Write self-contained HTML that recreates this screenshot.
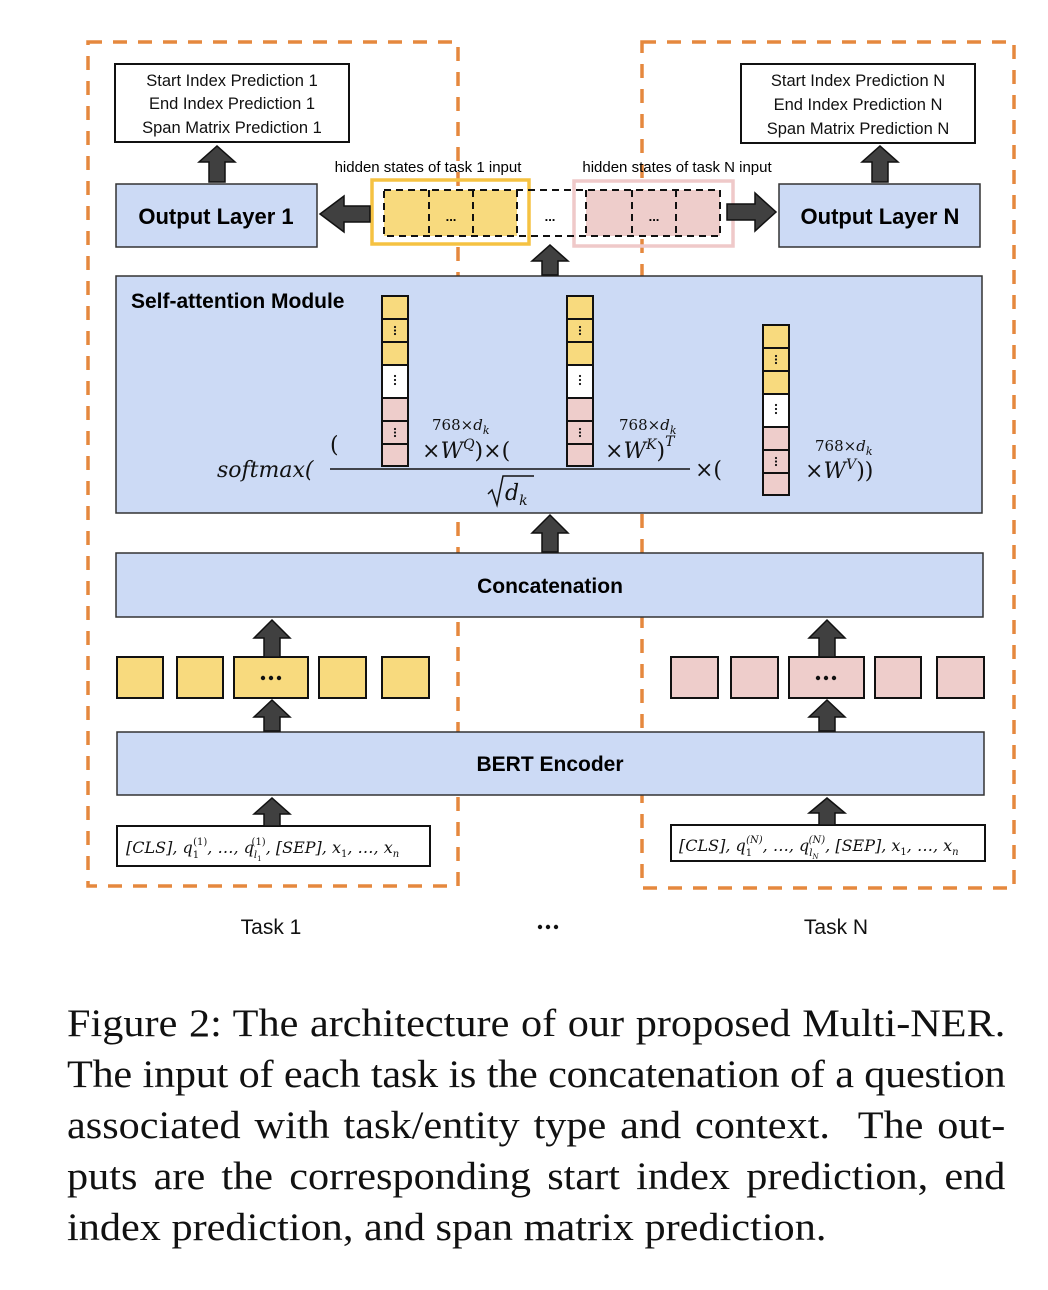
<!DOCTYPE html>
<html><head><meta charset="utf-8"><style>
html,body{margin:0;padding:0;background:#fff;}
body{width:1048px;height:1290px;position:relative;overflow:hidden;}
.sans{font-family:"Liberation Sans","DejaVu Sans",sans-serif;}
.cap{position:absolute;left:67px;width:877px;font-family:"Liberation Serif",serif;font-size:39.5px;line-height:51px;top:998px;color:#111;transform:scaleX(1.07);transform-origin:0 0;}
.cap div{text-align:justify;text-align-last:justify;white-space:nowrap;height:51px;}
.cap div.last{text-align-last:left;}
.cap div.tight{letter-spacing:-0.25px;word-spacing:-1px;}
</style></head><body>
<svg width="1048" height="990" style="position:absolute;left:0;top:0" xmlns="http://www.w3.org/2000/svg">
<defs>
<g id="col">
 <rect x="0" y="0" width="26" height="23" fill="#F8DA7E" stroke="#111" stroke-width="2"/>
 <rect x="0" y="23" width="26" height="23" fill="#F8DA7E" stroke="#111" stroke-width="2"/>
 <rect x="0" y="46" width="26" height="23" fill="#F8DA7E" stroke="#111" stroke-width="2"/>
 <rect x="0" y="69" width="26" height="33" fill="#fff" stroke="#111" stroke-width="2"/>
 <rect x="0" y="102" width="26" height="23" fill="#EECDCB" stroke="#111" stroke-width="2"/>
 <rect x="0" y="125" width="26" height="23" fill="#EECDCB" stroke="#111" stroke-width="2"/>
 <rect x="0" y="148" width="26" height="22" fill="#EECDCB" stroke="#111" stroke-width="2"/>
 <g fill="#111"><circle cx="13" cy="31" r="1.1"/><circle cx="13" cy="34.5" r="1.1"/><circle cx="13" cy="38" r="1.1"/>
 <circle cx="13" cy="80" r="1.1"/><circle cx="13" cy="84" r="1.1"/><circle cx="13" cy="88" r="1.1"/>
 <circle cx="13" cy="133" r="1.1"/><circle cx="13" cy="136.5" r="1.1"/><circle cx="13" cy="140" r="1.1"/></g>
</g>
</defs>
<rect x="88" y="42" width="370" height="844" fill="none" stroke="#E5883E" stroke-width="3.5" stroke-dasharray="14,11"/>
<rect x="642" y="42" width="372" height="846" fill="none" stroke="#E5883E" stroke-width="3.5" stroke-dasharray="14,11"/>

<rect x="115" y="64" width="234" height="78" fill="#fff" stroke="#111" stroke-width="2"/>
<g class="sans" font-size="16.5" text-anchor="middle" fill="#111">
<text x="232" y="86">Start Index Prediction 1</text>
<text x="232" y="109">End Index Prediction 1</text>
<text x="232" y="133">Span Matrix Prediction 1</text>
</g>
<rect x="741" y="64" width="234" height="79" fill="#fff" stroke="#111" stroke-width="2"/>
<g class="sans" font-size="16.5" text-anchor="middle" fill="#111">
<text x="858" y="86">Start Index Prediction N</text>
<text x="858" y="110">End Index Prediction N</text>
<text x="858" y="134">Span Matrix Prediction N</text>
</g>

<rect x="116" y="184" width="201" height="63" fill="#CCDAF5" stroke="#333" stroke-width="1.5"/>
<text x="216" y="224" class="sans" font-size="22" font-weight="bold" text-anchor="middle">Output Layer 1</text>
<rect x="779" y="184" width="201" height="63" fill="#CCDAF5" stroke="#333" stroke-width="1.5"/>
<text x="880" y="224" class="sans" font-size="22" font-weight="bold" text-anchor="middle">Output Layer N</text>

<text x="428" y="172" class="sans" font-size="15" text-anchor="middle">hidden states of task 1 input</text>
<text x="677" y="172" class="sans" font-size="15" text-anchor="middle">hidden states of task N input</text>
<rect x="372" y="180" width="157" height="64" fill="none" stroke="#F5C242" stroke-width="3.5"/>
<rect x="574" y="181" width="159" height="65" fill="none" stroke="#EFC9C9" stroke-width="3.5"/>
<rect x="384" y="190" width="133" height="46" fill="#F8DA7E"/>
<rect x="586" y="190" width="134" height="46" fill="#EECDCB"/>
<g fill="none" stroke="#111" stroke-width="2" stroke-dasharray="7,5">
<rect x="384" y="190" width="336" height="46"/>
<line x1="429" y1="190" x2="429" y2="236"/><line x1="473" y1="190" x2="473" y2="236"/><line x1="517" y1="190" x2="517" y2="236"/>
<line x1="586" y1="190" x2="586" y2="236"/><line x1="632" y1="190" x2="632" y2="236"/><line x1="676" y1="190" x2="676" y2="236"/>
</g>
<g class="sans" font-size="13" font-weight="bold" text-anchor="middle"><text x="451" y="221">...</text><text x="550" y="221">...</text><text x="654" y="221">...</text></g>

<rect x="116" y="276" width="866" height="237" fill="#CCDAF5" stroke="#333" stroke-width="1.5"/>
<text x="131" y="308" class="sans" font-size="21" font-weight="bold">Self-attention Module</text>
<use href="#col" x="382" y="296"/>
<use href="#col" x="567" y="296"/>
<use href="#col" x="763" y="325"/>
<line x1="330" y1="469" x2="690" y2="469" stroke="#111" stroke-width="1.6"/>
<g font-family="DejaVu Serif, Liberation Serif, serif" fill="#111">
<text x="217" y="477" font-size="22" font-style="italic">softmax(</text>
<text x="330" y="452" font-size="22">(</text>
<text x="432" y="430" font-size="15">768×<tspan font-style="italic">d</tspan><tspan font-size="11" font-style="italic" dy="4">k</tspan></text>
<text x="422" y="458" font-size="22">×<tspan font-style="italic">W</tspan><tspan font-size="14" font-style="italic" dy="-9">Q</tspan><tspan dy="9">)×(</tspan></text>
<text x="619" y="430" font-size="15">768×<tspan font-style="italic">d</tspan><tspan font-size="11" font-style="italic" dy="4">k</tspan></text>
<text x="605" y="458" font-size="22">×<tspan font-style="italic">W</tspan><tspan font-size="14" font-style="italic" dy="-9">K</tspan><tspan dy="9">)</tspan><tspan font-size="14" font-style="italic" dy="-12">T</tspan></text>
<text x="695" y="477" font-size="22">×(</text>
<text x="815" y="451" font-size="15">768×<tspan font-style="italic">d</tspan><tspan font-size="11" font-style="italic" dy="4">k</tspan></text>
<text x="805" y="478" font-size="22">×<tspan font-style="italic">W</tspan><tspan font-size="14" font-style="italic" dy="-9">V</tspan><tspan dy="9">))</tspan></text>
<text x="505" y="500" font-size="22" font-style="italic">d<tspan font-size="14" dy="5">k</tspan></text>
</g>
<polyline points="488,494 492,490 497,505 503,476 534,476" fill="none" stroke="#111" stroke-width="1.5"/>

<rect x="116" y="553" width="867" height="64" fill="#CCDAF5" stroke="#333" stroke-width="1.5"/>
<text x="550" y="593" class="sans" font-size="21" font-weight="bold" text-anchor="middle">Concatenation</text>

<g stroke="#111" stroke-width="2">
<rect x="117" y="657" width="46" height="41" fill="#F8DA7E"/><rect x="177" y="657" width="46" height="41" fill="#F8DA7E"/>
<rect x="234" y="657" width="74" height="41" fill="#F8DA7E"/><rect x="319" y="657" width="47" height="41" fill="#F8DA7E"/>
<rect x="382" y="657" width="47" height="41" fill="#F8DA7E"/>
<rect x="671" y="657" width="47" height="41" fill="#EECDCB"/><rect x="731" y="657" width="47" height="41" fill="#EECDCB"/>
<rect x="789" y="657" width="75" height="41" fill="#EECDCB"/><rect x="875" y="657" width="46" height="41" fill="#EECDCB"/>
<rect x="937" y="657" width="47" height="41" fill="#EECDCB"/>
</g>
<g fill="#111"><circle cx="263" cy="678" r="2.2"/><circle cx="271" cy="678" r="2.2"/><circle cx="279" cy="678" r="2.2"/>
<circle cx="818" cy="678" r="2.2"/><circle cx="826" cy="678" r="2.2"/><circle cx="834" cy="678" r="2.2"/></g>

<rect x="117" y="732" width="867" height="63" fill="#CCDAF5" stroke="#333" stroke-width="1.5"/>
<text x="550" y="771" class="sans" font-size="21" font-weight="bold" text-anchor="middle">BERT Encoder</text>

<rect x="117" y="826" width="313" height="40" fill="#fff" stroke="#111" stroke-width="2"/>
<rect x="671" y="825" width="314" height="36" fill="#fff" stroke="#111" stroke-width="2"/>
<g font-family="DejaVu Serif, Liberation Serif, serif" font-style="italic" fill="#111" font-size="16">
<text x="126" y="853">[CLS], q<tspan font-size="10" dy="5" font-style="normal">1</tspan><tspan font-size="10" dx="-6" dy="-13" font-style="normal">(1)</tspan><tspan dy="8">, …, q</tspan><tspan font-size="10" dy="5">l</tspan><tspan font-size="7" dy="3" font-style="normal">1</tspan><tspan font-size="10" dx="-10" dy="-16" font-style="normal">(1)</tspan><tspan dy="8">, [SEP], x</tspan><tspan font-size="10" dy="4" font-style="normal">1</tspan><tspan dy="-4">, …, x</tspan><tspan font-size="10" dy="4">n</tspan></text>
<text x="679" y="851">[CLS], q<tspan font-size="10" dy="5" font-style="normal">1</tspan><tspan font-size="10" dx="-6" dy="-13">(N)</tspan><tspan dy="8">, …, q</tspan><tspan font-size="10" dy="5">l</tspan><tspan font-size="7" dy="3">N</tspan><tspan font-size="10" dx="-10" dy="-16">(N)</tspan><tspan dy="8">, [SEP], x</tspan><tspan font-size="10" dy="4" font-style="normal">1</tspan><tspan dy="-4">, …, x</tspan><tspan font-size="10" dy="4">n</tspan></text>
</g>

<g fill="#404040" stroke="#111" stroke-width="1.5">
<polygon points="209,182 225,182 225,162 235,162 217,146 199,162 209,162"/>
<polygon points="872,182 888,182 888,162 898,162 880,146 862,162 872,162"/>
<polygon points="542,275 558,275 558,261 568,261 550,245 532,261 542,261"/>
<polygon points="542,552 558,552 558,533 568,533 550,515 532,533 542,533"/>
<polygon points="264,657 280,657 280,638 290,638 272,620 254,638 264,638"/>
<polygon points="819,657 835,657 835,638 845,638 827,620 809,638 819,638"/>
<polygon points="264,731 280,731 280,717 290,717 272,700 254,717 264,717"/>
<polygon points="819,731 835,731 835,717 845,717 827,700 809,717 819,717"/>
<polygon points="264,826 280,826 280,814 290,814 272,798 254,814 264,814"/>
<polygon points="819,825 835,825 835,813 845,813 827,798 809,813 819,813"/>
<polygon points="370,206 370,222 344,222 344,232 320,214 344,196 344,206"/>
<polygon points="727,204 727,220 755,220 755,231 776,212 755,193 755,204"/>
</g>

<g class="sans" font-size="21" text-anchor="middle" fill="#111">
<text x="271" y="934">Task 1</text><text x="836" y="934">Task N</text>
</g>
<g fill="#111"><circle cx="540" cy="927" r="2.2"/><circle cx="548" cy="927" r="2.2"/><circle cx="556" cy="927" r="2.2"/></g>
</svg>
<div class="cap">
<div>Figure 2: The architecture of our proposed Multi-NER.</div>
<div class="tight">The input of each task is the concatenation of a question</div>
<div>associated with task/entity type and context. &nbsp;The out-</div>
<div>puts are the corresponding start index prediction, end</div>
<div class="last">index prediction, and span matrix prediction.</div>
</div>
</body></html>
